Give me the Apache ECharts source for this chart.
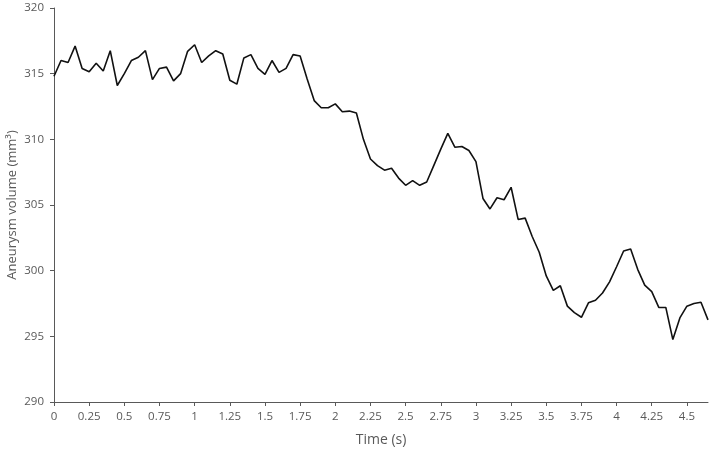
<!DOCTYPE html>
<html>
<head>
<meta charset="utf-8">
<script src="https://cdn.jsdelivr.net/npm/echarts@6/dist/echarts.min.js"></script>
<style>
  html, body { margin: 0; padding: 0; background: #fff; }
  #chart { width: 712px; height: 451px; }
</style>
</head>
<body>
<div id="chart"></div>
<script>
// samples every 0.05 s
const timeStep = 0.05
const volume = [
  314.8, 316.0, 315.85, 317.1, 315.4, 315.15, 315.8, 315.2, 316.75, 314.1,
  315.0, 316.0, 316.25, 316.75, 314.55, 315.4, 315.5, 314.45, 315.0, 316.7,
  317.2, 315.85, 316.35, 316.75, 316.5, 314.5, 314.2, 316.2, 316.45, 315.4,
  314.95, 316.0, 315.1, 315.4, 316.45, 316.35, 314.6, 312.95, 312.4, 312.4,
  312.7, 312.1, 312.15, 312.0, 310.0, 308.5, 308.0, 307.65, 307.8, 307.05,
  306.5, 306.85, 306.5, 306.75, 308.0, 309.25, 310.45, 309.4, 309.45, 309.15,
  308.3, 305.5, 304.7, 305.55, 305.4, 306.35, 303.9, 304.0, 302.6, 301.4,
  299.6, 298.5, 298.85, 297.3, 296.8, 296.45, 297.55, 297.75, 298.3, 299.15,
  300.3, 301.5, 301.65, 300.1, 298.9, 298.4, 297.2, 297.2, 294.75, 296.4,
  297.3, 297.5, 297.6, 296.25
]
const xTicks = [0, 0.25, 0.5, 0.75, 1, 1.25, 1.5, 1.75, 2, 2.25, 2.5, 2.75, 3, 3.25, 3.5, 3.75, 4, 4.25, 4.5]

const points = volume.map((v, i) => [+(i * timeStep).toFixed(2), v])

const axisColor = '#595959'
const font = 'Open Sans'

const chart = echarts.init(document.getElementById('chart'))

chart.setOption({
  animation: false,
  grid: { left: 54, right: 4, top: 8, bottom: 49, outerBoundsMode: 'none' },
  xAxis: {
    type: 'value',
    min: 0,
    max: 4.65,
    name: 'Time (s)',
    nameLocation: 'middle',
    nameGap: 31,
    nameMoveOverlap: false,
    nameTextStyle: { color: axisColor, fontFamily: font, fontSize: 14 },
    axisLine: { lineStyle: { color: axisColor, width: 1 } },
    axisTick: { customValues: xTicks, length: 4, lineStyle: { color: axisColor } },
    axisLabel: { customValues: xTicks, color: axisColor, fontFamily: font, fontSize: 11.5, margin: 9 },
    splitLine: { show: false }
  },
  yAxis: {
    type: 'value',
    min: 290,
    max: 320,
    interval: 5,
    name: 'Aneurysm volume (mm³)',
    nameLocation: 'middle',
    nameGap: 35,
    nameMoveOverlap: false,
    nameTextStyle: { color: axisColor, fontFamily: font, fontSize: 13 },
    axisLine: { show: true, lineStyle: { color: axisColor, width: 1 } },
    axisTick: { show: true, length: 4, lineStyle: { color: axisColor } },
    axisLabel: { color: axisColor, fontFamily: font, fontSize: 11.5, margin: 10 },
    splitLine: { show: false }
  },
  series: [
    {
      type: 'line',
      data: points,
      showSymbol: false,
      lineStyle: { color: '#111', width: 1.6 }
    }
  ]
})
</script>
</body>
</html>
